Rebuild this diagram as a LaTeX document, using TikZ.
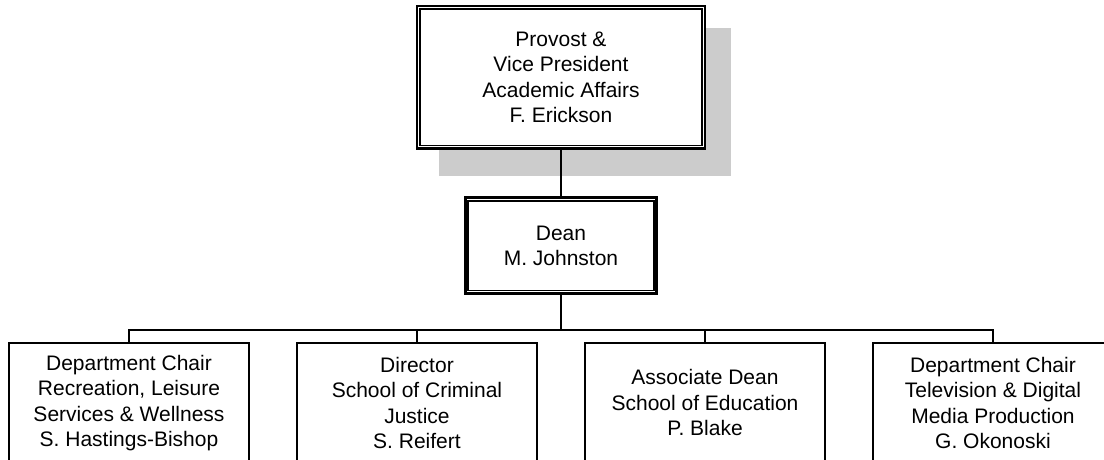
\documentclass[tikz,border=0pt]{standalone}
\usepackage{fontspec}
\setmainfont{Liberation Sans}
\usetikzlibrary{backgrounds}

\begin{document}
\begin{tikzpicture}[x = 1pt, y = -1pt,
	every node/.style = {font = \fontsize{21}{25.5}\selectfont, align = center, inner sep = 0pt},
	headbox/.style = {draw, line width = 2.7pt, fill = white},
	unitbox/.style = {draw, line width = 1.8pt, minimum width = 240pt, minimum height = 120pt, anchor = north},
	link/.style = {line width = 1.8pt}]

\useasboundingbox (0,0) rectangle (1104,460);

\node[headbox, minimum width = 288pt, minimum height = 142.7pt] (provost) at (561,77.3) {Provost \&\\Vice President\\Academic Affairs\\F. Erickson};
\draw[line width = 1.6pt] ([shift={(4.2,4.6)}]provost.north west) rectangle ([shift={(-4.2,-4.6)}]provost.south east);
\begin{scope}[on background layer]
	\fill[black!20] ([shift={(23,23)}]provost.north west) rectangle ([shift={(25,26)}]provost.south east);
\end{scope}

\node[headbox, minimum width = 191.3pt, minimum height = 96pt] (dean) at (561,245.8) {Dean\\M. Johnston};
\draw[line width = 1.6pt] ([shift={(4.2,4.6)}]dean.north west) rectangle ([shift={(-4.2,-4.6)}]dean.south east);

\foreach \n/\x/\t in {
	chairrec/129/{Department Chair\\Recreation, Leisure\\Services \& Wellness\\S. Hastings-Bishop},
	director/417/{Director\\School of Criminal\\Justice\\S. Reifert},
	assocdean/705/{Associate Dean\\School of Education\\P. Blake},
	chairtv/993/{Department Chair\\Television \& Digital\\Media Production\\G. Okonoski}} {
	\node[unitbox] (\n) at (\x,342) {\t};
}

\coordinate (bus) at (dean.south |- 0,330);
\draw[link] (provost.south) -- (dean.north);
\draw[link] (dean.south) -- (bus);
\draw[link] (chairrec.north) |- (bus) -| (chairtv.north);
\foreach \n in {director, assocdean} {
	\draw[link] (\n.north) -- (\n.north |- bus);
}
\end{tikzpicture}
\end{document}
